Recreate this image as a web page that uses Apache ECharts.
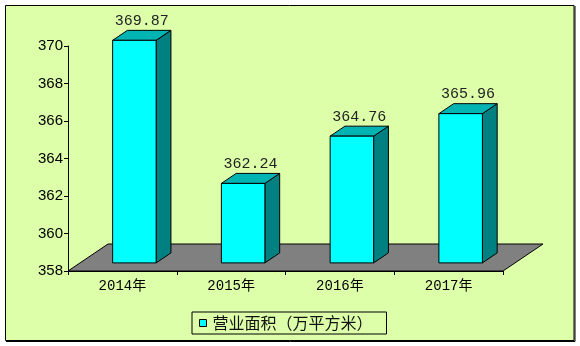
<!DOCTYPE html>
<html>
<head>
<meta charset="utf-8">
<script src="https://cdn.jsdelivr.net/npm/echarts@6/dist/echarts.min.js"></script>
<style>
  html, body { margin: 0; padding: 0; background: #fff; }
  #chart { width: 580px; height: 346px; }
</style>
</head>
<body>
<div id="chart"></div>
<script>
// Floor space by year (10k m²)
const years = ['2014年', '2015年', '2016年', '2017年'];
const areaValues = [369.87, 362.24, 364.76, 365.96];
const seriesName = '营业面积（万平方米）';
const yMin = 358, yMax = 370, yStep = 2;

// 3D look: floor depth vector and where the columns sit inside it
const FLOOR_DX = 40, FLOOR_DY = -27;
const FRONT_FRAC = 0.3;   // column front plane, as share of floor depth
const DEPTH_FRAC = 0.37;  // column depth, as share of floor depth
const BAR_FRAC = 0.4;     // column width, as share of the category band

const BG = '#DDFFAA';
const FACE = '#00FFFF', TOP = '#00B4B4', SIDE = '#008080', FLOOR = '#808080';

const chart = echarts.init(document.getElementById('chart'), null, { renderer: 'canvas' });

function renderFloor(params, api) {
  const band = api.size([1, 0])[0];
  const p0 = api.coord([0, yMin]);
  const p1 = api.coord([years.length - 1, yMin]);
  const x0 = p0[0] - band / 2, x1 = p1[0] + band / 2, y = p0[1];
  return {
    type: 'polygon',
    shape: { points: [[x0, y], [x1, y], [x1 + FLOOR_DX, y + FLOOR_DY], [x0 + FLOOR_DX, y + FLOOR_DY]] },
    style: { fill: FLOOR, stroke: '#000', lineWidth: 1 }
  };
}

function renderColumn(params, api) {
  const idx = api.value(0);
  const val = api.value(1);
  const band = api.size([1, 0])[0];
  const w = band * BAR_FRAC;
  const base = api.coord([idx, yMin]);
  const top = api.coord([idx, val]);
  const fx = FLOOR_DX * FRONT_FRAC, fy = FLOOR_DY * FRONT_FRAC;
  const dx = FLOOR_DX * DEPTH_FRAC, dy = FLOOR_DY * DEPTH_FRAC;
  const l = base[0] + fx - w / 2, r = base[0] + fx + w / 2;
  const b = base[1] + fy, t = top[1] + fy;
  const edge = { stroke: '#000', lineWidth: 1, lineJoin: 'miter' };
  return {
    type: 'group',
    children: [
      { type: 'polygon', shape: { points: [[r, b], [r + dx, b + dy], [r + dx, t + dy], [r, t]] },
        style: Object.assign({ fill: SIDE }, edge) },
      { type: 'polygon', shape: { points: [[l, t], [r, t], [r + dx, t + dy], [l + dx, t + dy]] },
        style: Object.assign({ fill: TOP }, edge) },
      { type: 'rect', shape: { x: l, y: t, width: w, height: b - t },
        style: Object.assign({ fill: FACE }, edge) },
      { type: 'text', x: (l + r + dx) / 2, y: t + dy - 2,
        style: { text: val.toFixed(2), fill: '#222', align: 'center', verticalAlign: 'bottom',
                 font: '15px "Liberation Mono", monospace' } }
    ]
  };
}

chart.setOption({
  backgroundColor: '#fff',
  animation: false,
  graphic: [
    { type: 'rect', z: -10, shape: { x: 5.5, y: 5.5, width: 568.5, height: 335 },
      style: { fill: BG, stroke: '#000', lineWidth: 1 } },
    { type: 'polyline', z: -9, shape: { points: [[575, 6], [575, 341.5], [6, 341.5]] },
      style: { fill: null, stroke: '#000', lineWidth: 1 } }
  ],
  grid: { left: 68, top: 46, width: 435, height: 225 },
  legend: {
    left: 192, top: 312,
    padding: [3, 14, 3, 7],
    borderColor: '#000', borderWidth: 1, borderRadius: 0,
    backgroundColor: BG,
    itemWidth: 7, itemHeight: 7, itemGap: 5,
    textStyle: { fontFamily: '"Noto Sans CJK SC"', fontSize: 16, color: '#111', padding: [0, 0, 0, 1] },
    data: [{ name: seriesName, icon: 'rect',
             itemStyle: { color: FACE, borderColor: '#000', borderWidth: 1 } }]
  },
  xAxis: {
    type: 'category',
    data: years,
    boundaryGap: true,
    axisLine: { lineStyle: { color: '#000', width: 1 } },
    axisTick: { show: true, length: 4, lineStyle: { color: '#000' } },
    axisLabel: { color: '#000', margin: 8, fontSize: 14,
                 fontFamily: '"Liberation Mono", "Noto Sans CJK SC", monospace' },
    splitLine: { show: false }
  },
  yAxis: {
    type: 'value',
    min: yMin, max: yMax, interval: yStep,
    axisLine: { show: true, lineStyle: { color: '#000', width: 1 } },
    axisTick: { show: true, length: 4, lineStyle: { color: '#000' } },
    axisLabel: { color: '#000', margin: 5, fontSize: 15, fontFamily: '"Liberation Sans", Arial' },
    splitLine: { show: false }
  },
  series: [
    { type: 'custom', name: '__floor', silent: true, clip: false, z: 1,
      renderItem: renderFloor, data: [[0]] },
    { type: 'custom', name: seriesName, clip: false, z: 2,
      itemStyle: { color: FACE },
      encode: { x: 0, y: 1 },
      renderItem: renderColumn,
      data: areaValues.map((v, i) => [i, v]) }
  ]
});
</script>
</body>
</html>
